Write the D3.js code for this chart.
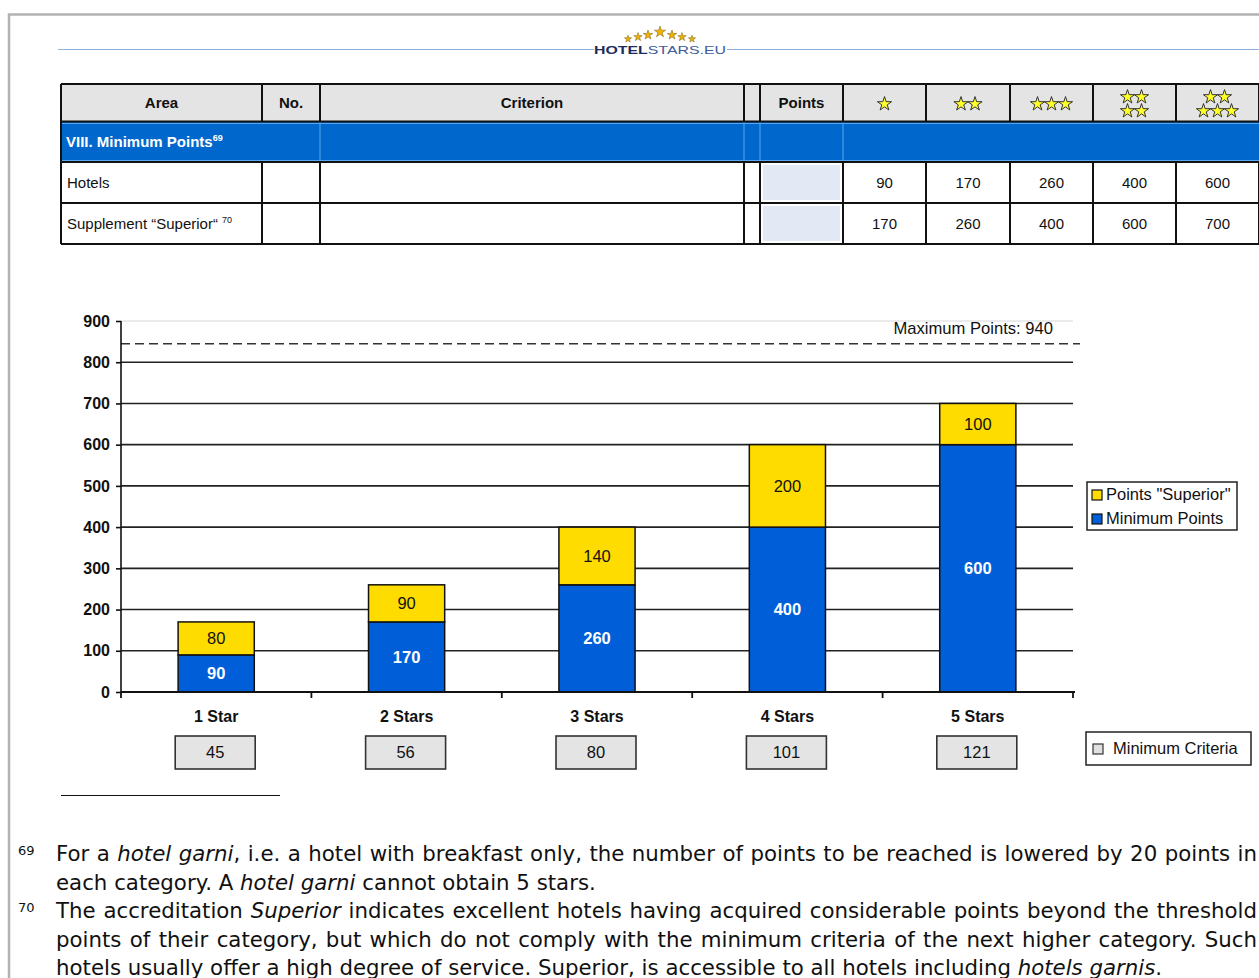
<!DOCTYPE html>
<html><head><meta charset="utf-8">
<script src="https://cdn.jsdelivr.net/npm/d3@7"></script>
<style>body{margin:0;background:#fff}svg{display:block}</style>
</head><body>
<svg id="page" width="1259" height="978"></svg>
<script>
// ---------- data ----------
const categories = ["1 Star", "2 Stars", "3 Stars", "4 Stars", "5 Stars"];
const minimumPoints = [90, 170, 260, 400, 600];
const superiorPoints = [80, 90, 140, 200, 100];
const minimumCriteria = [45, 56, 80, 101, 121];
const yTicks = [0, 100, 200, 300, 400, 500, 600, 700, 800, 900];
const maxPointsLine = 845;
const maxPointsLabel = "Maximum Points: 940";
const seriesNames = ["Points \"Superior\"", "Minimum Points"];
const tableHeaders = ["Area", "No.", "Criterion", "", "Points"];
const starCounts = [1, 2, 3, 4, 5];
const tableHotels = [90, 170, 260, 400, 600];
const tableSuperior = [170, 260, 400, 600, 700];

const BLUE = "#005fd8", YELLOW = "#ffdc00";
const SANS = "'Liberation Sans', Arial, sans-serif";
const svg = d3.select("#page");

// ---------- page frame ----------
svg.append("path").attr("d", "M9,978V14.5H1259").attr("fill", "none")
  .attr("stroke", "#b2b2b2").attr("stroke-width", 2.5);

// ---------- logo ----------
svg.append("line").attr("x1", 58).attr("x2", 594).attr("y1", 49.5).attr("y2", 49.5)
  .attr("stroke", "#8fb0dc").attr("stroke-width", 1.2);
svg.append("line").attr("x1", 727).attr("x2", 1259).attr("y1", 49.5).attr("y2", 49.5)
  .attr("stroke", "#8fb0dc").attr("stroke-width", 1.2);
const logo = svg.append("text").attr("x", 594).attr("y", 54).attr("font-family", SANS)
  .attr("font-size", 11.5).attr("textLength", 132).attr("lengthAdjust", "spacingAndGlyphs");
logo.append("tspan").attr("font-weight", "bold").attr("fill", "#1c2c5c").text("HOTEL");
logo.append("tspan").attr("fill", "#3d5c9c").text("STARS.EU");
const logoStars = [[628, 39, 16], [638, 37, 22], [648, 35, 28], [660, 32, 40], [672, 35, 28], [682, 37, 22], [692, 39, 16]];
svg.selectAll(".lstar").data(logoStars).join("path")
  .attr("d", d => d3.symbol(d3.symbolStar, d[2])())
  .attr("transform", d => `translate(${d[0]},${d[1]})`)
  .attr("fill", "#f0b400").attr("stroke", "#7a5a10").attr("stroke-width", 0.5);

// ---------- table ----------
const cols = [61, 262, 320, 744, 760, 843, 926, 1010, 1093, 1176, 1259];
const tbl = svg.append("g");
tbl.append("rect").attr("x", 61).attr("y", 84).attr("width", 1198).attr("height", 38).attr("fill", "#e4e4e4");
tbl.append("rect").attr("x", 61).attr("y", 122).attr("width", 1198).attr("height", 40).attr("fill", "#0068cc");
[123.5, 160.5].forEach(yy => tbl.append("line").attr("x1", 61).attr("x2", 1259).attr("y1", yy).attr("y2", yy)
  .attr("stroke", "#5aa6ee").attr("stroke-width", 1));
[320, 744, 760, 843].forEach(xx => tbl.append("line").attr("x1", xx).attr("x2", xx).attr("y1", 122).attr("y2", 162)
  .attr("stroke", "#5aa6ee").attr("stroke-width", 1));
[162, 203].forEach(yy => tbl.append("rect").attr("x", 763).attr("y", yy + 3).attr("width", 77).attr("height", 35)
  .attr("fill", "#e2e9f5"));
[84, 121.5, 162, 203, 244].forEach(yy => tbl.append("line").attr("x1", 61).attr("x2", 1259).attr("y1", yy).attr("y2", yy)
  .attr("stroke", "#111").attr("stroke-width", 2));
cols.forEach(xx => {
  tbl.append("line").attr("x1", xx).attr("x2", xx).attr("y1", 84).attr("y2", 121.5).attr("stroke", "#111").attr("stroke-width", 2);
  tbl.append("line").attr("x1", xx).attr("x2", xx).attr("y1", 162).attr("y2", 244).attr("stroke", "#111").attr("stroke-width", 2);
});
tbl.append("line").attr("x1", 61).attr("x2", 61).attr("y1", 121).attr("y2", 163).attr("stroke", "#111").attr("stroke-width", 2);
tableHeaders.forEach((h, i) => {
  tbl.append("text").attr("x", (cols[i] + cols[i + 1]) / 2).attr("y", 108).attr("text-anchor", "middle")
    .attr("font-family", SANS).attr("font-size", 15).attr("font-weight", "bold").attr("fill", "#111").text(h);
});
starCounts.forEach((n, i) => {
  const cx = (cols[5 + i] + cols[6 + i]) / 2;
  let pos = [];
  if (n <= 3) { for (let k = 0; k < n; k++) pos.push([cx + (k - (n - 1) / 2) * 14, 104]); }
  else {
    const top = 2, bot = n - top;
    for (let k = 0; k < top; k++) pos.push([cx + (k - (top - 1) / 2) * 14, 97]);
    for (let k = 0; k < bot; k++) pos.push([cx + (k - (bot - 1) / 2) * 14, 111]);
  }
  tbl.selectAll(null).data(pos).join("path")
    .attr("d", d3.symbol(d3.symbolStar, 62)())
    .attr("transform", d => `translate(${d[0]},${d[1]})`)
    .attr("fill", "#ffff2a").attr("stroke", "#333").attr("stroke-width", 1);
});
const t1 = tbl.append("text").attr("x", 66).attr("y", 147).attr("font-family", SANS).attr("font-size", 15)
  .attr("font-weight", "bold").attr("fill", "#fff");
t1.append("tspan").text("VIII. Minimum Points");
t1.append("tspan").attr("font-size", 9).attr("dy", -6).text("69");
tbl.append("text").attr("x", 67).attr("y", 188).attr("font-family", SANS).attr("font-size", 15).attr("fill", "#111").text("Hotels");
const t2 = tbl.append("text").attr("x", 67).attr("y", 229).attr("font-family", SANS).attr("font-size", 15).attr("fill", "#111");
t2.append("tspan").text("Supplement \u201CSuperior\u201C ");
t2.append("tspan").attr("font-size", 9).attr("dy", -6).text("70");
[[tableHotels, 188], [tableSuperior, 229]].forEach(([vals, yy]) => {
  vals.forEach((v, i) => tbl.append("text").attr("x", (cols[5 + i] + cols[6 + i]) / 2).attr("y", yy)
    .attr("text-anchor", "middle").attr("font-family", SANS).attr("font-size", 15).attr("fill", "#111").text(v));
});

// ---------- chart ----------
const x = d3.scaleBand().domain(categories).range([121, 1073]).paddingInner(0.6).paddingOuter(0.3);
const y = d3.scaleLinear().domain([0, 900]).range([692, 321]);
const ch = svg.append("g");
ch.selectAll(".grid").data(yTicks.filter(v => v > 0)).join("line")
  .attr("x1", 121).attr("x2", 1073).attr("y1", d => y(d)).attr("y2", d => y(d))
  .attr("stroke", d => d === 900 ? "#e4e4e4" : "#222").attr("stroke-width", 1.6);
ch.append("line").attr("x1", 121).attr("x2", 1080).attr("y1", y(maxPointsLine)).attr("y2", y(maxPointsLine))
  .attr("stroke", "#333").attr("stroke-width", 1.5).attr("stroke-dasharray", "9,5");
ch.append("text").attr("x", 1053).attr("y", 334).attr("text-anchor", "end").attr("font-family", SANS)
  .attr("font-size", 16.6).attr("fill", "#111").text(maxPointsLabel);
const stackData = categories.map((c, i) => ({ cat: c, min: minimumPoints[i], sup: superiorPoints[i] }));
const stacked = d3.stack().keys(["min", "sup"])(stackData);
const colors = { min: BLUE, sup: YELLOW };
stacked.forEach(layer => {
  ch.selectAll(null).data(layer).join("rect")
    .attr("x", d => x(d.data.cat)).attr("width", x.bandwidth())
    .attr("y", d => y(d[1])).attr("height", d => y(d[0]) - y(d[1]))
    .attr("fill", colors[layer.key]).attr("stroke", "#111").attr("stroke-width", 1.5);
  ch.selectAll(null).data(layer).join("text")
    .attr("x", d => x(d.data.cat) + x.bandwidth() / 2).attr("y", d => y((d[0] + d[1]) / 2)).attr("dy", "0.36em")
    .attr("text-anchor", "middle").attr("font-family", SANS).attr("font-size", 16.5)
    .attr("font-weight", layer.key === "min" ? "bold" : "normal")
    .attr("fill", layer.key === "min" ? "#fff" : "#111")
    .text(d => d[1] - d[0]);
});
ch.append("line").attr("x1", 121).attr("x2", 121).attr("y1", y(900)).attr("y2", y(0)).attr("stroke", "#111").attr("stroke-width", 1.6);
const yAxis = ch.append("g").attr("transform", "translate(121,0)")
  .call(d3.axisLeft(y).tickValues(yTicks).tickSize(5).tickPadding(6));
yAxis.select(".domain").remove();
yAxis.selectAll("line").attr("stroke", "#111").attr("stroke-width", 1.6);
yAxis.selectAll("text").attr("font-family", SANS).attr("font-size", 16).attr("font-weight", "bold").attr("fill", "#111");
ch.append("line").attr("x1", 121).attr("x2", 1075).attr("y1", y(0)).attr("y2", y(0)).attr("stroke", "#111").attr("stroke-width", 1.8);
const bounds = d3.range(categories.length + 1).map(i => 121 + i * x.step());
ch.selectAll(".xt").data(bounds).join("line")
  .attr("x1", d => d).attr("x2", d => d).attr("y1", y(0)).attr("y2", y(0) + 6)
  .attr("stroke", "#111").attr("stroke-width", 1.8);
ch.selectAll(".xl").data(categories).join("text")
  .attr("x", d => x(d) + x.bandwidth() / 2).attr("y", 722).attr("text-anchor", "middle")
  .attr("font-family", SANS).attr("font-size", 16).attr("font-weight", "bold").attr("fill", "#111").text(d => d);
ch.selectAll(".mcb").data(minimumCriteria).join("rect")
  .attr("x", (d, i) => x(categories[i]) + x.bandwidth() / 2 - 41).attr("y", 736).attr("width", 80).attr("height", 33)
  .attr("fill", "#e4e4e4").attr("stroke", "#333").attr("stroke-width", 1.6);
ch.selectAll(".mct").data(minimumCriteria).join("text")
  .attr("x", (d, i) => x(categories[i]) + x.bandwidth() / 2 - 1).attr("y", 758).attr("text-anchor", "middle")
  .attr("font-family", SANS).attr("font-size", 16.5).attr("fill", "#111").text(d => d);
ch.append("rect").attr("x", 1087).attr("y", 482).attr("width", 150).attr("height", 48)
  .attr("fill", "#fff").attr("stroke", "#222").attr("stroke-width", 1.5);
[YELLOW, BLUE].forEach((c, i) => {
  ch.append("rect").attr("x", 1092).attr("y", 490 + i * 24).attr("width", 10).attr("height", 10)
    .attr("fill", c).attr("stroke", "#111").attr("stroke-width", 1.2);
  ch.append("text").attr("x", 1106).attr("y", 500 + i * 24).attr("font-family", SANS).attr("font-size", 16.5)
    .attr("fill", "#111").text(seriesNames[i]);
});
ch.append("rect").attr("x", 1086).attr("y", 732).attr("width", 165).attr("height", 33)
  .attr("fill", "#fff").attr("stroke", "#222").attr("stroke-width", 1.5);
ch.append("rect").attr("x", 1093).attr("y", 744).attr("width", 10).attr("height", 10)
  .attr("fill", "#e0e0e0").attr("stroke", "#333").attr("stroke-width", 1.2);
ch.append("text").attr("x", 1113).attr("y", 754).attr("font-family", SANS).attr("font-size", 16.5)
  .attr("fill", "#111").text("Minimum Criteria");

// ---------- footnotes ----------
svg.append("line").attr("x1", 61).attr("x2", 280).attr("y1", 795.5).attr("y2", 795.5).attr("stroke", "#111").attr("stroke-width", 1);
const FN = "'DejaVu Sans', Verdana, sans-serif";
[["69", 855], ["70", 912]].forEach(([s, yy]) => svg.append("text").attr("x", 18).attr("y", yy)
  .attr("font-family", FN).attr("font-size", 13).attr("fill", "#111").text(s));
const fnLines = [
  { y: 861, just: true, parts: [["For a ", 0], ["hotel garni", 1], [", i.e. a hotel with breakfast only, the number of points to be reached is lowered by 20 points in", 0]] },
  { y: 890, just: false, parts: [["each category. A ", 0], ["hotel garni", 1], [" cannot obtain 5 stars.", 0]] },
  { y: 918, just: true, parts: [["The accreditation ", 0], ["Superior", 1], [" indicates excellent hotels having acquired considerable points beyond the threshold", 0]] },
  { y: 947, just: true, parts: [["points of their category, but which do not comply with the minimum criteria of the next higher category. Such", 0]] },
  { y: 975, just: false, parts: [["hotels usually offer a high degree of service. Superior, is accessible to all hotels including ", 0], ["hotels garnis", 1], [".", 0]] }
];
fnLines.forEach(l => {
  const t = svg.append("text").attr("x", 56).attr("y", l.y).attr("font-family", FN).attr("font-size", 21.3)
    .attr("fill", "#111").style("white-space", "pre");
  l.parts.forEach(p => t.append("tspan").attr("font-style", p[1] ? "italic" : "normal").text(p[0]));
  if (l.just) {
    const w = t.node().getComputedTextLength();
    const n = l.parts.map(p => p[0]).join("").split(" ").length - 1;
    t.style("word-spacing", ((1201 - w) / n) + "px");
  }
});
</script>
</body></html>
